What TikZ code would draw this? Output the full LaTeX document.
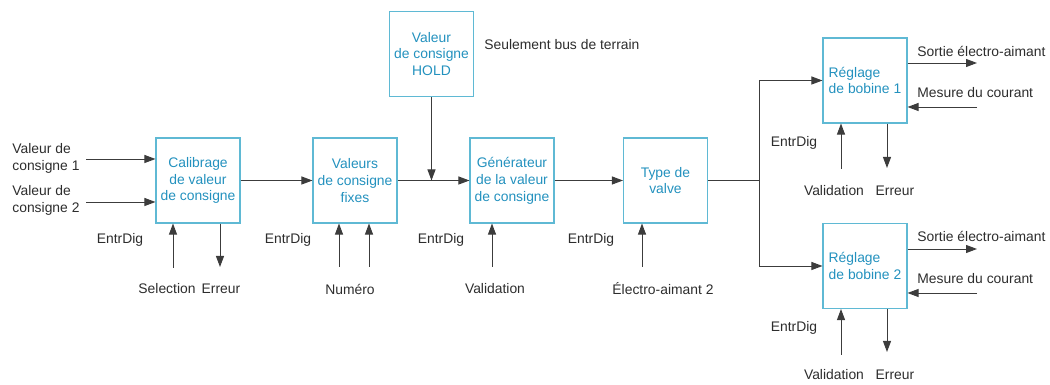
\documentclass[tikz,border=0pt]{standalone}
\usepackage{fontspec}
\setmainfont{Liberation Sans}
\usetikzlibrary{arrows.meta}
\definecolor{boxline}{RGB}{95,185,212}
\definecolor{boxtext}{RGB}{35,145,190}
\definecolor{wirecol}{RGB}{60,60,60}
\definecolor{lbltext}{RGB}{45,45,45}
\tikzset{
  blk/.style={draw=boxline, line width=0.6pt, minimum width=16.8mm, minimum height=17mm,
    text=boxtext, align=center, inner sep=0pt, font=\fontsize{7.9}{9.6}\selectfont},
  lbl/.style={text=lbltext, inner sep=0pt, font=\fontsize{7.9}{9.6}\selectfont},
  arr/.style={draw=wirecol, line width=0.55pt, -{Triangle[length=2.2mm,width=1.6mm]}},
  wire/.style={draw=wirecol, line width=0.55pt}
}
\begin{document}
\begin{tikzpicture}[x=0.2mm,y=-0.2mm]
\useasboundingbox (0,0) rectangle (1050,385);

\node[blk] (calib) at (198,180.5) {Calibrage\\de valeur\\de consigne};
\node[blk] (fixes) at (355,180.5) {Valeurs\\de consigne\\fixes};
\node[blk] (hold) at (431.5,54) {Valeur\\de consigne\\HOLD};
\node[blk] (gen) at (512,180.5) {Générateur\\de la valeur\\de consigne};
\node[blk] (valve) at (665.5,180.5) {Type de\\valve};
\node[blk,align=left] (bob1) at (865,80.5) {Réglage\\de bobine 1};
\node[blk,align=left] (bob2) at (865,266) {Réglage\\de bobine 2};

% entrees a gauche
\node[lbl,anchor=west,align=left] (in1) at (12,158) {Valeur de\\consigne 1};
\node[lbl,anchor=west,align=left] (in2) at (12,200) {Valeur de\\consigne 2};
\coordinate (c1) at (86,159);
\coordinate (c2) at (86,202);
\draw[arr] (c1) -- (c1 -| calib.west);
\draw[arr] (c2) -- (c2 -| calib.west);

% chaine principale
\draw[arr] (calib.east) -- (fixes.west);
\draw[arr] (fixes.east) -- (gen.west);
\draw[arr] (hold.south) -- (hold.south |- gen.west);
\draw[arr] (gen.east) -- (valve.west);
\coordinate (split) at (759,180.5);
\draw[wire] (valve.east) -- (split);
\draw[arr] (split) |- (bob1.west);
\draw[arr] (split) |- (bob2.west);
\node[lbl,anchor=west] (bus) at (484,45) {Seulement bus de terrain};

% entrees et sorties du bas
\node[lbl] (ed1) at (120,240) {EntrDig};
\node[lbl] (sel) at (167,289) {Selection};
\node[lbl] (err1) at (221,289) {Erreur};
\coordinate (u1) at (173,268);
\coordinate (d1) at (220,267);
\draw[arr] (u1) -- (u1 |- calib.south);
\draw[arr] (d1 |- calib.south) -- (d1);

\node[lbl] (ed2) at (288,240) {EntrDig};
\node[lbl] (num) at (350,289) {Numéro};
\coordinate (u2a) at (339,267);
\coordinate (u2b) at (369,267);
\draw[arr] (u2a) -- (u2a |- fixes.south);
\draw[arr] (u2b) -- (u2b |- fixes.south);

\node[lbl] (ed3) at (441,240) {EntrDig};
\node[lbl] (val3) at (495,289) {Validation};
\coordinate (u3) at (492,267);
\draw[arr] (u3) -- (u3 |- gen.south);

\node[lbl] (ed4) at (591,240) {EntrDig};
\node[lbl] (ea2) at (663,289) {Électro-aimant 2};
\coordinate (u4) at (642,267);
\draw[arr] (u4) -- (u4 |- valve.south);

% bobine 1
\node[lbl,anchor=west] (so1) at (917,51) {Sortie électro-aimant};
\node[lbl,anchor=west] (me1) at (917,93) {Mesure du courant};
\coordinate (o1) at (977,63);
\coordinate (m1) at (977,107);
\draw[arr] (o1 -| bob1.east) -- (o1);
\draw[arr] (m1) -- (m1 -| bob1.east);
\node[lbl] (ed5) at (794,143) {EntrDig};
\node[lbl] (val5) at (834,191) {Validation};
\node[lbl] (err5) at (895,191) {Erreur};
\coordinate (u5) at (841,169);
\coordinate (d5) at (887,168);
\draw[arr] (u5) -- (u5 |- bob1.south);
\draw[arr] (d5 |- bob1.south) -- (d5);

% bobine 2
\node[lbl,anchor=west] (so2) at (917,236) {Sortie électro-aimant};
\node[lbl,anchor=west] (me2) at (917,279) {Mesure du courant};
\coordinate (o2) at (977,249);
\coordinate (m2) at (977,293);
\draw[arr] (o2 -| bob2.east) -- (o2);
\draw[arr] (m2) -- (m2 -| bob2.east);
\node[lbl] (ed6) at (794,328) {EntrDig};
\node[lbl] (val6) at (834,375) {Validation};
\node[lbl] (err6) at (895,375) {Erreur};
\coordinate (u6) at (841,355);
\coordinate (d6) at (887,352);
\draw[arr] (u6) -- (u6 |- bob2.south);
\draw[arr] (d6 |- bob2.south) -- (d6);
\end{tikzpicture}
\end{document}
